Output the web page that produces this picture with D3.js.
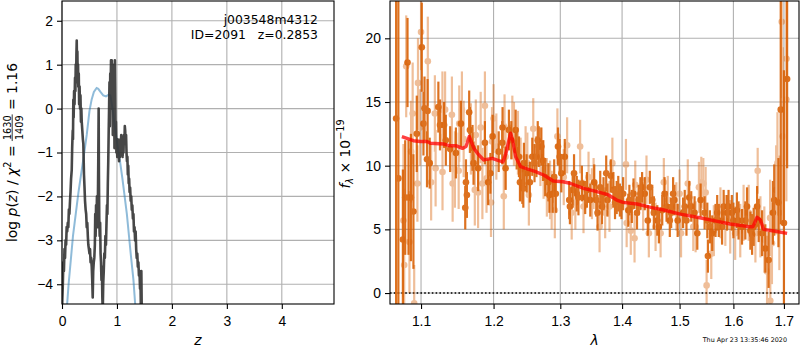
<!DOCTYPE html>
<html>
<head>
<meta charset="utf-8">
<title>zfit j003548m4312</title>
<script src="https://d3js.org/d3.v7.min.js"></script>
<style>
  body { margin: 0; background: #fff; }
  svg { font-family: "DejaVu Sans", sans-serif; }
  .tick text { font-size: 13.9px; fill: #000; }
  .tick line { stroke: #000; stroke-width: 1.1; }
  .grid line { stroke: #b0b0b0; stroke-width: 1.1; }
</style>
</head>
<body>
<svg id="fig" width="800" height="350"></svg>
<script>

// ---- left panel: log p(z) and chi2 curves ----
var zTicks = [0, 1, 2, 3, 4];
var logpTicks = [-4, -3, -2, -1, 0, 1, 2];

// [z, value] for the noisy chi2 trace (dark line)
var chi2Curve = [[0.000,-4.6],[0.015,-4.0],[0.025,-3.5],[0.035,-3.7],[0.045,-3.2],[0.055,-3.4],[0.065,-3.0],[0.075,-3.1],
  [0.085,-2.7],[0.095,-2.8],[0.105,-2.6],[0.115,-2.7],[0.125,-2.3],[0.135,-2.4],[0.146,-2.1],[0.155,-1.9],[0.165,-1.6],
  [0.177,-1.4],[0.185,-0.9],[0.195,-0.5],[0.200,-0.7],[0.206,0.2],[0.212,-0.2],[0.220,0.4],[0.228,0.1],[0.237,0.7],
  [0.244,0.4],[0.250,1.0],[0.256,0.6],[0.262,1.2],[0.268,1.55],[0.274,0.9],[0.280,1.3],[0.286,0.6],[0.292,1.0],
  [0.297,0.5],[0.305,0.8],[0.312,0.1],[0.320,0.5],[0.328,0.0],[0.336,0.3],[0.345,-0.3],[0.352,0.0],[0.359,-0.3],
  [0.370,-0.5],[0.380,-0.7],[0.388,-0.8],[0.395,-1.2],[0.400,-1.5],[0.410,-1.8],[0.419,-2.1],[0.430,-2.3],[0.440,-2.4],
  [0.450,-2.7],[0.460,-2.6],[0.470,-2.9],[0.479,-3.1],[0.490,-3.2],[0.500,-3.3],[0.510,-3.2],[0.520,-3.5],[0.530,-3.4],
  [0.541,-3.6],[0.550,-3.9],[0.559,-4.3],[0.568,-3.7],[0.578,-3.5],[0.588,-3.4],[0.598,-3.1],[0.605,-2.4],[0.612,-2.9],
  [0.620,-2.2],[0.628,-2.6],[0.636,-2.0],[0.645,-2.7],[0.652,-2.3],[0.660,-1.2],[0.667,0.0],[0.672,-1.5],[0.678,-2.5],
  [0.686,-2.9],[0.694,-2.6],[0.702,-3.3],[0.710,-3.5],[0.718,-3.9],[0.726,-3.6],[0.734,-4.3],[0.742,-4.6],[0.750,-4.0],
  [0.760,-3.7],[0.770,-3.3],[0.780,-3.4],[0.790,-2.9],[0.800,-3.1],[0.810,-2.6],[0.818,-2.2],[0.826,-2.4],[0.834,-1.7],
  [0.842,-1.2],[0.850,-0.5],[0.858,0.1],[0.864,0.6],[0.870,-0.4],[0.878,0.8],[0.885,0.4],[0.892,1.1],[0.898,0.0],
  [0.905,1.1],[0.912,0.5],[0.918,1.0],[0.925,-0.6],[0.932,0.6],[0.940,-0.4],[0.948,0.8],[0.955,-0.9],[0.962,1.1],
  [0.968,0.3],[0.975,-0.6],[0.982,-0.3],[0.990,-1.0],[0.998,-0.8],[1.006,-1.1],[1.014,-0.7],[1.022,-1.0],[1.030,-0.8],
  [1.038,-1.2],[1.046,-0.9],[1.054,-1.1],[1.062,-0.7],[1.070,-0.9],[1.078,-0.6],[1.087,-0.9],[1.095,-0.7],[1.103,-1.1],
  [1.111,-0.8],[1.119,-1.0],[1.127,-0.6],[1.135,-0.8],[1.143,-0.4],[1.150,-0.5],[1.158,-0.8],[1.166,-0.6],[1.174,-1.0],
  [1.182,-1.2],[1.190,-1.1],[1.198,-1.5],[1.206,-1.3],[1.214,-1.7],[1.222,-1.6],[1.230,-1.9],[1.240,-1.8],[1.250,-2.1],
  [1.260,-2.0],[1.270,-2.3],[1.280,-2.2],[1.290,-2.5],[1.300,-2.4],[1.310,-2.8],[1.320,-2.7],[1.330,-3.0],[1.340,-2.8],
  [1.350,-3.2],[1.360,-3.4],[1.370,-3.3],[1.380,-3.6],[1.390,-3.5],[1.400,-3.8],[1.410,-3.7],[1.420,-4.1],[1.428,-3.9],
  [1.436,-4.6],[1.444,-3.7],[1.452,-4.7]];

// [z, log p(z)] smooth curve (blue)
var pzCurve = [[0.085,-4.6],[0.12,-4.0],[0.2,-2.9],[0.3,-1.9],[0.4,-1.05],[0.45,-0.6],[0.5,-0.05],[0.54,0.21],
  [0.58,0.38],[0.63,0.47],[0.66,0.45],[0.7,0.38],[0.75,0.3],[0.8,0.28],[0.85,0.32],[0.88,0.3],[0.92,0.0],
  [0.96,-0.4],[1.0,-0.75],[1.056,-1.2],[1.1,-1.6],[1.18,-2.4],[1.25,-3.3],[1.3,-3.9],[1.34,-4.6]];

// ---- right panel: spectrum ----
var lamTicks = [1.1, 1.2, 1.3, 1.4, 1.5, 1.6, 1.7];
var fluxTicks = [0, 5, 10, 15, 20];

// [lambda, flux, err]  darker set
var specDark = [[1.0676,13.7,15],[1.0705,9.0,14],[1.0763,4.2,5.5],[1.0793,7.5,4.5],[1.0823,18.1,3.5],[1.0836,7.5,4.5],
  [1.0867,7.5,5],[1.0900,6.4,4.5],[1.0944,12.5,3],[1.1010,19.3,3.5],[1.1032,13.3,2.5],[1.1046,14.5,2.5],[1.1079,10.5,2.2],
  [1.1087,14.3,2.5],[1.1115,10.2,2],[1.1231,14.6,2],[1.1253,13.2,2],[1.1308,13.2,1.8],[1.1332,12.0,2],[1.1391,11.3,1.8],
  [1.1470,11.0,2],[1.1539,13.3,1.8],[1.1599,6.7,1.7],[1.1609,8.7,1.8],[1.1622,7.7,1.8],[1.1654,14.2,1.7],[1.1664,12.8,1.8],
  [1.1701,11.4,1.8],[1.1715,10.2,1.7],[1.1780,9.8,1.8],[1.1876,11.8,1.7],[1.1922,8.7,1.8],[1.1954,9.4,1.6],[1.1986,12.3,1.7],
  [1.2074,11.1,1.6],[1.2125,11.8,1.7],[1.2130,13.0,1.6],[1.2174,9.8,1.7],[1.2223,12.8,1.6],[1.2258,12.0,1.5],[1.2322,12.8,1.6],
  [1.2337,11.2,1.5],[1.2371,10.7,1.6],[1.2386,8.7,1.5],[1.2421,8.6,1.6],[1.2436,8.2,1.5],[1.2445,10.2,1.6],[1.2485,9.4,1.5],
  [1.2534,8.7,1.6],[1.2570,10.7,1.5],[1.2604,10.2,1.5],[1.2633,10.7,1.6],[1.2653,12.0,1.5],[1.2668,11.5,1.6],[1.2708,11.5,1.5],
  [1.2733,10.4,1.6],[1.2767,9.1,1.5],[1.2816,8.7,1.5],[1.2831,7.7,1.4],[1.2881,7.8,1.5],[1.2905,9.1,1.4],[1.2930,7.8,1.5],
  [1.2964,11.5,1.5],[1.2990,10.7,1.4],[1.3016,9.4,1.5],[1.3070,10.7,1.4],[1.3140,7.3,1.5],[1.3151,6.8,1.4],[1.3195,8.1,1.4],
  [1.3216,9.4,1.5],[1.3260,7.8,1.4],[1.3286,7.5,1.4],[1.3341,8.6,1.4],[1.3394,7.5,1.3],[1.3422,8.1,1.4],[1.3476,7.3,1.3],
  [1.3540,8.7,1.4],[1.3573,7.3,1.3],[1.3594,6.3,1.4],[1.3638,8.3,1.3],[1.3666,6.8,1.4],[1.3692,7.8,1.3],[1.3736,9.4,1.4],
  [1.3757,7.3,1.3],[1.3812,9.2,1.3],[1.3855,8.1,1.4],[1.3882,7.1,1.3],[1.3910,7.5,1.3],[1.3936,7.8,1.4],[1.3963,7.3,1.3],
  [1.3990,7.1,1.3],[1.4018,7.8,1.3],[1.4105,6.5,1.3],[1.4123,7.3,1.2],[1.4165,6.8,1.3],[1.4193,7.8,1.2],[1.4253,6.3,1.3],
  [1.4281,7.3,1.2],[1.4311,7.8,1.3],[1.4340,8.3,1.2],[1.4386,7.8,1.3],[1.4439,5.7,1.2],[1.4474,8.3,1.3],[1.4516,7.3,1.2],
  [1.4544,6.3,1.3],[1.4604,5.7,1.2],[1.4632,5.2,1.3],[1.4691,6.5,1.2],[1.4732,7.8,1.3],[1.4767,6.8,1.2],[1.4825,5.7,1.3],
  [1.4849,6.3,1.2],[1.4884,7.8,1.3],[1.4907,7.3,1.2],[1.4965,5.7,1.3],[1.5063,6.3,1.2],[1.5093,6.8,1.3],[1.5124,5.7,1.2],
  [1.5174,7.5,1.3],[1.5211,6.8,1.2],[1.5272,6.3,1.3],[1.5322,4.7,1.3],[1.5383,7.3,1.3],[1.5457,6.3,1.3],[1.5507,5.7,1.4],
  [1.5518,2.9,1.3],[1.5555,5.2,1.3],[1.5599,4.7,1.4],[1.5661,5.7,1.3],[1.5692,6.3,1.4],[1.5722,5.7,1.3],[1.5784,5.2,1.4],
  [1.5814,6.8,1.3],[1.5878,6.3,1.4],[1.5907,6.8,1.3],[1.5970,6.3,1.4],[1.6000,5.7,1.4],[1.6067,6.5,1.4],[1.6099,5.7,1.5],
  [1.6166,5.2,1.4],[1.6231,5.7,1.5],[1.6264,6.8,1.5],[1.6329,4.9,1.5],[1.6363,4.6,1.6],[1.6394,5.2,1.5],[1.6461,6.8,1.6],
  [1.6493,5.7,1.7],[1.6560,4.7,1.8],[1.6625,3.5,1.9],[1.6690,2.6,2.2],[1.6777,6.3,2.5],[1.6803,7.3,2.8],[1.6888,7.1,3.5],
  [1.6935,14.4,9],[1.7000,5.5,12],[1.7065,16.8,7]];

// [lambda, flux, err]  lighter set
var specLight = [[1.0770,5.7,6],[1.0780,2.2,6],[1.0806,17.8,4],[1.0848,4.0,4],[1.0870,11.1,4],[1.0890,14.1,4],
  [1.0910,-0.8,3],[1.0952,8.6,3],[1.0960,16.5,3.5],[1.0987,13.0,3],[1.1000,20.5,3],[1.1090,18.2,3.5],[1.1134,8.7,3],
  [1.1184,14.1,3],[1.1194,9.8,3],[1.1286,14.4,3],[1.1287,9.5,3],[1.1322,14.4,3],[1.1415,14.0,3],[1.1425,8.6,3],
  [1.1456,9.7,3],[1.1508,9.6,3],[1.1516,13.3,3],[1.1553,14.4,3],[1.1577,12.1,3],[1.1678,12.1,2.8],[1.1733,8.1,2.8],
  [1.1747,12.4,2.8],[1.1779,7.9,2.8],[1.1816,13.0,2.8],[1.1840,8.6,2.8],[1.1876,14.7,2.7],[1.1899,9.0,2.7],
  [1.1963,7.1,2.7],[1.1978,11.9,2.7],[1.2000,13.7,2.7],[1.2040,11.5,2.6],[1.2148,7.6,2.6],[1.2159,13.0,2.6],
  [1.2174,10.7,2.6],[1.2273,13.0,2.5],[1.2297,12.5,2.5],[1.2356,11.8,2.5],[1.2396,9.7,2.5],[1.2470,10.7,2.4],
  [1.2496,10.2,2.4],[1.2519,7.7,2.4],[1.2585,12.9,2.4],[1.2693,10.7,2.3],[1.2742,9.7,2.3],[1.2792,8.3,2.3],
  [1.2841,8.1,2.3],[1.2866,7.3,2.3],[1.2915,6.5,2.2],[1.2955,12.3,2.2],[1.3054,9.1,2.2],[1.3107,11.6,2.2],
  [1.3179,6.3,2.1],[1.3237,7.1,2.1],[1.3313,11.5,2.1],[1.3367,6.8,2.1],[1.3448,9.1,2.0],[1.3503,7.8,2.0],
  [1.3530,8.6,2.0],[1.3627,5.2,2.0],[1.3719,6.3,2.0],[1.3790,6.8,2.0],[1.3838,10.2,2.0],[1.4065,10.1,2.0],
  [1.4077,5.5,1.9],[1.4147,4.9,1.9],[1.4211,4.3,1.9],[1.4223,8.5,1.9],[1.4358,6.8,1.9],[1.4416,8.9,1.9],
  [1.4457,4.7,1.9],[1.4574,5.2,1.9],[1.4662,4.7,1.9],[1.4719,8.7,1.9],[1.4789,7.3,1.9],[1.4942,6.8,1.9],
  [1.5000,7.8,1.9],[1.5026,4.7,1.9],[1.5148,8.6,1.9],[1.5248,5.2,1.9],[1.5291,5.2,2.0],[1.5352,8.3,2.0],
  [1.5396,8.7,2.0],[1.5433,8.6,2.0],[1.5476,7.9,2.0],[1.5494,0.6,2.0],[1.5581,3.1,2.0],[1.5629,4.9,2.0],
  [1.5753,6.3,2.0],[1.5846,5.7,2.0],[1.5939,5.2,2.1],[1.6034,4.7,2.1],[1.6132,4.9,2.1],[1.6197,6.3,2.2],
  [1.6296,6.3,2.2],[1.6428,4.7,2.3],[1.6473,9.6,1.8],[1.6527,5.2,2.4],[1.6605,4.2,2.6],[1.6659,1.7,2.8],
  [1.6720,5.9,3.0],[1.6724,-0.6,3.0],[1.6757,3.9,3.2],[1.6842,8.1,3.5],[1.6868,10.2,4],[1.6907,6.3,4.5],
  [1.6955,21.3,6],[1.6975,12.3,7],[1.7050,15.2,8],[1.7053,18.4,8]];

// best-fit model
var modelLam = [1.075,1.09,1.099,1.108,1.1125,1.131,1.138,1.147,1.156,1.161,1.1655,1.172,1.179,1.186,1.198,1.2074,
  1.2136,1.218,1.2223,1.2248,1.2278,1.2322,1.2396,1.2496,1.262,1.2742,1.289,1.3042,1.3151,1.3367,1.3585,1.3773,
  1.391,1.4018,1.4253,1.4488,1.4719,1.5013,1.5322,1.5629,1.5939,1.6296,1.638,1.6461,1.6527,1.6592,1.6797,1.7065];
var modelFlux = [12.28,11.96,11.9,11.9,11.76,11.7,11.57,11.57,11.36,11.5,12.3,11.36,10.84,10.45,10.58,10.4,
  10.3,10.97,12.0,12.55,12.0,10.7,9.92,9.74,9.53,9.27,8.8,8.74,8.62,8.22,7.96,7.7,
  7.3,7.12,6.99,6.73,6.52,6.2,5.95,5.68,5.42,5.21,5.21,5.95,5.73,5.0,4.87,4.69];

var objName = "j003548m4312";
var objInfo = "ID=2091   z=0.2853";
var stamp = "Thu Apr 23 13:35:46 2020";

var orange = "#d95f02";
var fs = 13.9;

var svg = d3.select("#fig");
var defs = svg.append("defs");

// ======== left panel ========
var L = {x0: 62, x1: 334, y0: 1, y1: 304};
var xz = d3.scaleLinear().domain([0, 4.95]).range([L.x0, L.x1]);
var yp = d3.scaleLinear().domain([-4.45, 2.45]).range([L.y1, L.y0]);

defs.append("clipPath").attr("id", "clipL").append("rect")
  .attr("x", L.x0).attr("y", L.y0).attr("width", L.x1 - L.x0).attr("height", L.y1 - L.y0);

var gl = svg.append("g");
var gridL = gl.append("g").attr("class", "grid");
gridL.selectAll("line.vx").data(zTicks).enter().append("line")
  .attr("x1", xz).attr("x2", xz).attr("y1", L.y0).attr("y2", L.y1);
gridL.selectAll("line.hy").data(logpTicks).enter().append("line")
  .attr("x1", L.x0).attr("x2", L.x1).attr("y1", yp).attr("y2", yp);

var plotL = gl.append("g").attr("clip-path", "url(#clipL)");
var lineL = d3.line().x(function (d) { return xz(d[0]); }).y(function (d) { return yp(d[1]); });

plotL.append("path").datum(pzCurve).attr("d", lineL)
  .attr("fill", "none").attr("stroke", "#1f77b4").attr("stroke-opacity", 0.5).attr("stroke-width", 2);
plotL.append("path").datum(chi2Curve).attr("d", lineL)
  .attr("fill", "none").attr("stroke", "#333").attr("stroke-opacity", 0.9).attr("stroke-width", 2.6)
  .attr("stroke-linejoin", "round");

gl.append("g").attr("transform", "translate(0," + L.y1 + ")")
  .call(d3.axisBottom(xz).tickValues(zTicks).tickSize(5).tickPadding(7).tickFormat(d3.format("d")))
  .call(function (g) { g.select(".domain").remove(); });
gl.append("g").attr("transform", "translate(" + L.x0 + ",0)")
  .call(d3.axisLeft(yp).tickValues(logpTicks).tickSize(5).tickPadding(4).tickFormat(d3.format("d")))
  .call(function (g) { g.select(".domain").remove(); });

gl.append("rect").attr("x", L.x0).attr("y", L.y0).attr("width", L.x1 - L.x0).attr("height", L.y1 - L.y0)
  .attr("fill", "none").attr("stroke", "#000").attr("stroke-width", 1.1);

gl.append("text").attr("x", 318).attr("y", 24).attr("text-anchor", "end").attr("font-size", 12.4).text(objName);
gl.append("text").attr("x", 318).attr("y", 38.5).attr("text-anchor", "end").attr("font-size", 12.4)
  .style("white-space", "pre").text(objInfo);

gl.append("text").attr("x", (L.x0 + L.x1) / 2).attr("y", 345).attr("text-anchor", "middle")
  .attr("font-size", fs).attr("font-style", "italic").text("z");

// math-like label builder: parts laid out left to right along the baseline
function mathLabel(parent, cx, cy, parts) {
  var g = parent.append("g").attr("transform", "translate(" + cx + "," + cy + ") rotate(-90)");
  var inner = g.append("g");
  var x = 0;
  parts.forEach(function (p) {
    if (p.frac) {
      var sz = p.size;
      var n = inner.append("text").attr("y", -5.6).attr("font-size", sz).text(p.frac[0]);
      var d = inner.append("text").attr("y", 6.4).attr("font-size", sz).text(p.frac[1]);
      var w = Math.max(n.node().getComputedTextLength(), d.node().getComputedTextLength()) + 2;
      n.attr("x", x + w / 2).attr("text-anchor", "middle");
      d.attr("x", x + w / 2).attr("text-anchor", "middle");
      inner.append("line").attr("x1", x).attr("x2", x + w).attr("y1", -4.3).attr("y2", -4.3)
        .attr("stroke", "#000").attr("stroke-width", 0.8);
      x += w;
      return;
    }
    var t = inner.append("text").attr("x", x).attr("y", p.dy || 0)
      .attr("font-size", p.size || fs).style("white-space", "pre").text(p.t);
    if (p.it) t.attr("font-style", "italic");
    x += t.node().getComputedTextLength() + (p.kern || 0);
  });
  inner.attr("transform", "translate(" + (-x / 2) + ",0)");
}

mathLabel(svg, 16.5, 152.5, [
  {t: "log "}, {t: "p", it: true}, {t: "("}, {t: "z", it: true}, {t: ") / "},
  {t: "\u03c7", it: true}, {t: "2", size: 9.7, dy: -5.5}, {t: " = "},
  {frac: ["1630", "1409"], size: 9.7}, {t: " = 1.16"}
]);

// ======== right panel ========
var R = {x0: 390, x1: 799, y0: 1, y1: 304};
var xl = d3.scaleLog().domain([1.0598, 1.731]).range([R.x0, R.x1]);
var yf = d3.scaleLinear().domain([-0.86, 22.93]).range([R.y1, R.y0]);

defs.append("clipPath").attr("id", "clipR").append("rect")
  .attr("x", R.x0).attr("y", R.y0).attr("width", R.x1 - R.x0).attr("height", R.y1 - R.y0);

var gr = svg.append("g");
var gridR = gr.append("g").attr("class", "grid");
gridR.selectAll("line.vx").data(lamTicks).enter().append("line")
  .attr("x1", xl).attr("x2", xl).attr("y1", R.y0).attr("y2", R.y1);
gridR.selectAll("line.hy").data(fluxTicks).enter().append("line")
  .attr("x1", R.x0).attr("x2", R.x1).attr("y1", yf).attr("y2", yf);

var plotR = gr.append("g").attr("clip-path", "url(#clipR)");

plotR.append("line").attr("x1", R.x0).attr("x2", R.x1).attr("y1", yf(0)).attr("y2", yf(0))
  .attr("stroke", "#000").attr("stroke-width", 1.6).attr("stroke-dasharray", "1.6,2.2");

function drawSpec(data, opacity) {
  var g = plotR.append("g").attr("opacity", opacity);
  var pts = g.selectAll("g.pt").data(data).enter().append("g").attr("class", "pt");
  pts.append("line")
    .attr("x1", function (d) { return xl(d[0]); }).attr("x2", function (d) { return xl(d[0]); })
    .attr("y1", function (d) { return yf(d[1] - d[2]); }).attr("y2", function (d) { return yf(d[1] + d[2]); })
    .attr("stroke", orange).attr("stroke-width", 2.2);
  pts.append("circle")
    .attr("cx", function (d) { return xl(d[0]); }).attr("cy", function (d) { return yf(d[1]); })
    .attr("r", 3.3).attr("fill", orange);
}
drawSpec(specLight, 0.4);
drawSpec(specDark, 0.88);

var model = modelLam.map(function (l, i) { return [l, modelFlux[i]]; });
plotR.append("path").datum(model)
  .attr("d", d3.line().x(function (d) { return xl(d[0]); }).y(function (d) { return yf(d[1]); }))
  .attr("fill", "none").attr("stroke", "#ff0000").attr("stroke-opacity", 0.75).attr("stroke-width", 3.4)
  .attr("stroke-linejoin", "round");

gr.append("g").attr("transform", "translate(0," + R.y1 + ")")
  .call(d3.axisBottom(xl).tickValues(lamTicks).tickSize(5).tickPadding(7).tickFormat(d3.format(".1f")))
  .call(function (g) { g.select(".domain").remove(); });
gr.append("g").attr("transform", "translate(" + R.x0 + ",0)")
  .call(d3.axisLeft(yf).tickValues(fluxTicks).tickSize(5).tickPadding(4).tickFormat(d3.format("d")))
  .call(function (g) { g.select(".domain").remove(); });

gr.append("rect").attr("x", R.x0).attr("y", R.y0).attr("width", R.x1 - R.x0).attr("height", R.y1 - R.y0)
  .attr("fill", "none").attr("stroke", "#000").attr("stroke-width", 1.1);

gr.append("text").attr("x", (R.x0 + R.x1) / 2).attr("y", 345).attr("text-anchor", "middle")
  .attr("font-size", fs).attr("font-style", "italic").text("\u03bb");

mathLabel(svg, 350, 154, [
  {t: "f", it: true}, {t: "\u03bb", it: true, size: 9.7, dy: 3}, {t: " \u00d7 10"},
  {t: "\u221219", size: 9.7, dy: -6}
]);

svg.append("text").attr("x", 787).attr("y", 342).attr("text-anchor", "end")
  .attr("font-size", 6.4).text(stamp);

</script>
</body>
</html>
